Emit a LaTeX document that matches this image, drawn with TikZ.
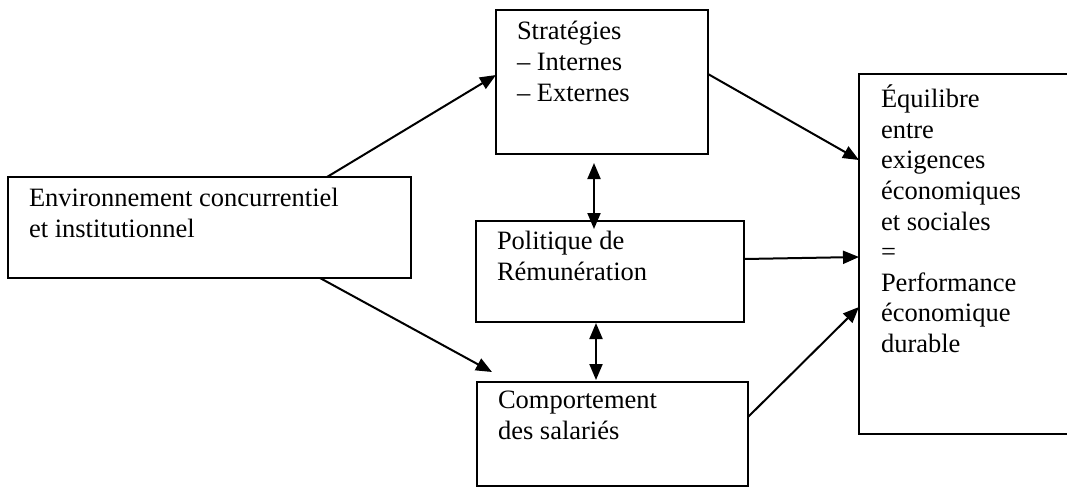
\documentclass[tikz,border=0pt]{standalone}
\usepackage{fontspec}
\setmainfont{Liberation Serif}
\usetikzlibrary{arrows.meta}

\begin{document}
\begin{tikzpicture}[x=1pt, y=-1pt,
  box/.style={draw, line width=2pt, rectangle, inner sep=0pt, outer sep=0pt, anchor=north west},
  txt/.style={inner sep=0pt, outer sep=0pt, anchor=north west, align=left,
    font=\fontsize{26.5}{31}\selectfont, execute at begin node={\rule{0pt}{24pt}}},
  link/.style={line width=2pt, -{Triangle[length=16pt, width=13pt]}},
  twoway/.style={line width=2pt, {Triangle[length=16pt, width=13pt]}-{Triangle[length=16pt, width=13pt]}}
]
  % page area
  \clip (0,0) rectangle (1067,488);

  % boxes
  \node[box, minimum width=403pt, minimum height=101pt] (env)   at (8,177)   {};
  \node[box, minimum width=212pt, minimum height=144pt] (strat) at (496,10)  {};
  \node[box, minimum width=268pt, minimum height=101pt] (pol)   at (476,221) {};
  \node[box, minimum width=271pt, minimum height=104pt] (comp)  at (477,382) {};
  \node[box, minimum width=230pt, minimum height=360pt] (equi)  at (859,74)  {};

  % texts
  \node[txt] (envtxt)   at ([shift={(21,11)}]env.north west)   {Environnement concurrentiel\\et institutionnel};
  \node[txt] (strattxt) at ([shift={(21,11)}]strat.north west) {Stratégies\\– Internes\\– Externes};
  \node[txt] (poltxt)   at ([shift={(21,10)}]pol.north west)   {Politique de\\Rémunération};
  \node[txt] (comptxt)  at ([shift={(21,9)}]comp.north west)   {Comportement\\des salariés};
  \node[txt, font=\fontsize{26.5}{30.6}\selectfont] (equitxt) at ([shift={(22,11)}]equi.north west)
    {Équilibre\\entre\\exigences\\économiques\\et sociales\\=\\Performance\\économique\\durable};

  % connectors
  \draw[link] ([xshift=319pt]env.north west) -- ([yshift=-65pt]strat.north west);
  \draw[link] ([xshift=312pt]env.south west) -- ([shift={(15,-10)}]comp.north west);
  \draw[link] ([yshift=-64pt]strat.north east) -- ([yshift=-86pt]equi.north west);
  \draw[link] ([yshift=-38pt]pol.north east) -- ([yshift=-183pt]equi.north west);
  \draw[link] ([yshift=-35pt]comp.north east) -- ([yshift=-233pt]equi.north west);
  \draw[twoway] ([shift={(98pt,-9pt)}]strat.south west) -- ([shift={(118pt,-8pt)}]pol.north west);
  \draw[twoway] ([shift={(120pt,-1pt)}]pol.south west) -- ([shift={(119pt,2pt)}]comp.north west);
\end{tikzpicture}
\end{document}
